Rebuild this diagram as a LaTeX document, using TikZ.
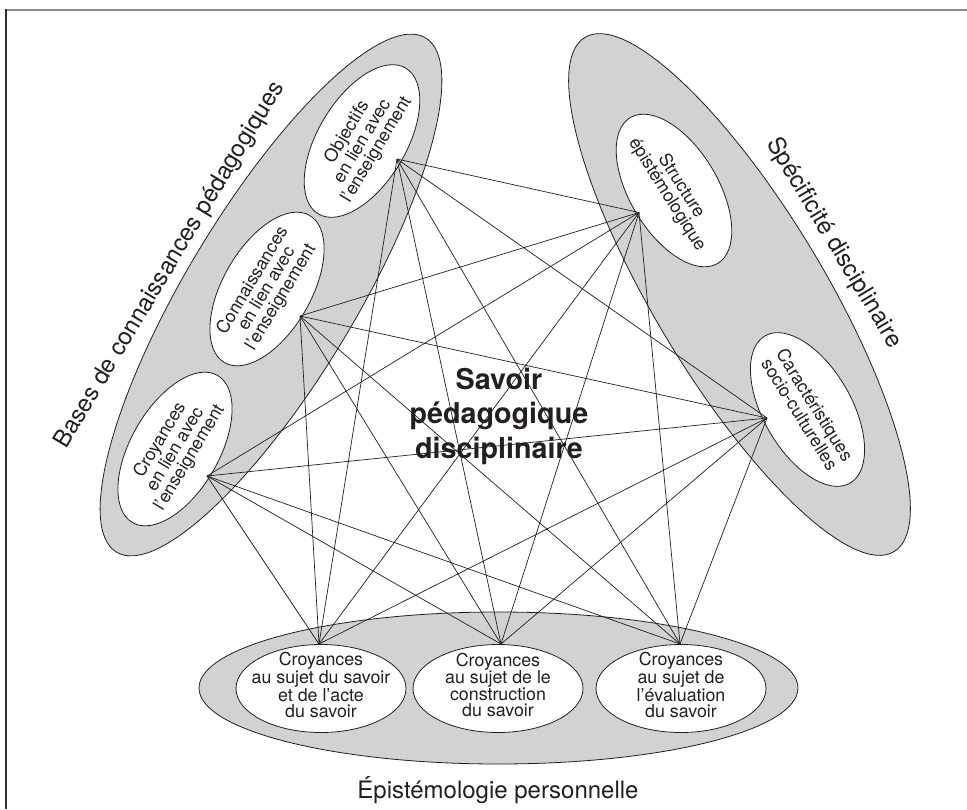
\documentclass[tikz,border=0pt]{standalone}
\usepackage{fontspec}
\setmainfont{TeX Gyre Heros}
\usetikzlibrary{shapes.geometric}
\definecolor{grpfill}{HTML}{D1D2D4}
\definecolor{ink}{HTML}{231F20}
\definecolor{frametop}{HTML}{8C8C8C}
\definecolor{frameleft}{HTML}{333333}
\begin{document}
\begin{tikzpicture}[x=1pt,y=-1pt,
  group/.style={ellipse, draw=ink, fill=grpfill, line width=0.8pt, inner sep=0pt, minimum width=600pt, minimum height=170pt},
  item/.style={ellipse, draw=ink, fill=white, line width=0.8pt, inner sep=0pt, minimum width=170pt, minimum height=88pt},
  itemtext/.style={align=center, font=\fontsize{17.8}{16.5}\selectfont, text=ink, inner sep=0pt},
  grouplabel/.style={font=\fontsize{24}{28}\selectfont, text=ink, inner sep=0pt},
  coretext/.style={align=center, font=\bfseries\fontsize{28.7}{34.5}\selectfont, text=ink, inner sep=0pt},
  link/.style={draw=ink, line width=0.7pt}
]
\useasboundingbox (0,0) rectangle (967,809);
\fill[white] (0,0) rectangle (967,809);
% frame
\draw[frametop, line width=2pt] (6,10) -- (967,10);
\draw[frameleft, line width=2pt] (6,9) -- (6,809);

% group ellipses
\node[group, rotate=59] (gL) at (271,295) {};
\node[group, rotate=-59] (gR) at (739.5,294.5) {};
\node[group, minimum width=599pt, minimum height=152pt] (gB) at (498.5,688) {};

% item ellipses
\node[item, rotate=59] (O) at (362,141) {};
\node[item, rotate=60] (C) at (267,289) {};
\node[item, rotate=60] (Cr) at (175,449) {};
\node[item, rotate=-59] (S) at (674,190.5) {};
\node[item, rotate=-60] (K) at (807.5,409.5) {};
\node[item] (B1) at (321,688.5) {};
\node[item] (B2) at (498,688.5) {};
\node[item] (B3) at (681,688.5) {};

% connection points
\coordinate (pO) at (397,159);
\coordinate (pC) at (300,316);
\coordinate (pCr) at (207,476);
\coordinate (pS) at (639,212.5);
\coordinate (pK) at (767,418);
\coordinate (pB1) at (319,644);
\coordinate (pB2) at (501,644);
\coordinate (pB3) at (680,644);

% links
\foreach \a in {pO,pC,pCr}
  \foreach \b in {pS,pK,pB1,pB2,pB3}
    \draw[link] (\a) -- (\b);
\foreach \a in {pS,pK}
  \foreach \b in {pB1,pB2,pB3}
    \draw[link] (\a) -- (\b);

% item texts
\node[itemtext, rotate=59] (Ot) at (O.center) {Objectifs\\en lien avec\\l'enseignement};
\node[itemtext, rotate=59] (Ct) at (C.center) {Connaissances\\en lien avec\\l'enseignement};
\node[itemtext, rotate=59] (Crt) at (Cr.center) {Croyances\\en lien avec\\l'enseignement};
\node[itemtext, rotate=-58] (St) at (S.center) {Structure\\épistémologique};
\node[itemtext, rotate=-58] (Kt) at (K.center) {Caractéristiques\\socio-culturelles};
\node[itemtext] (B1t) at (321,685) {Croyances\\au sujet du savoir\\et de l’acte\\du savoir};
\node[itemtext] (B2t) at (498,685) {Croyances\\au sujet de le\\construction\\du savoir};
\node[itemtext] (B3t) at (681,685) {Croyances\\au sujet de\\l’évaluation\\du savoir};

% group labels
\node[grouplabel, rotate=59] (gLt) at (170,265) {Bases de connaissances pédagogiques};
\node[grouplabel, rotate=-59] (gRt) at (834,243) {Spécificité disciplinaire};
\node[grouplabel, anchor=base] (gBt) at (498,798) {Épistémologie personnelle};

% core text
\node[coretext] (core) at (499,416) {Savoir\\pédagogique\\disciplinaire};
\end{tikzpicture}
\end{document}
